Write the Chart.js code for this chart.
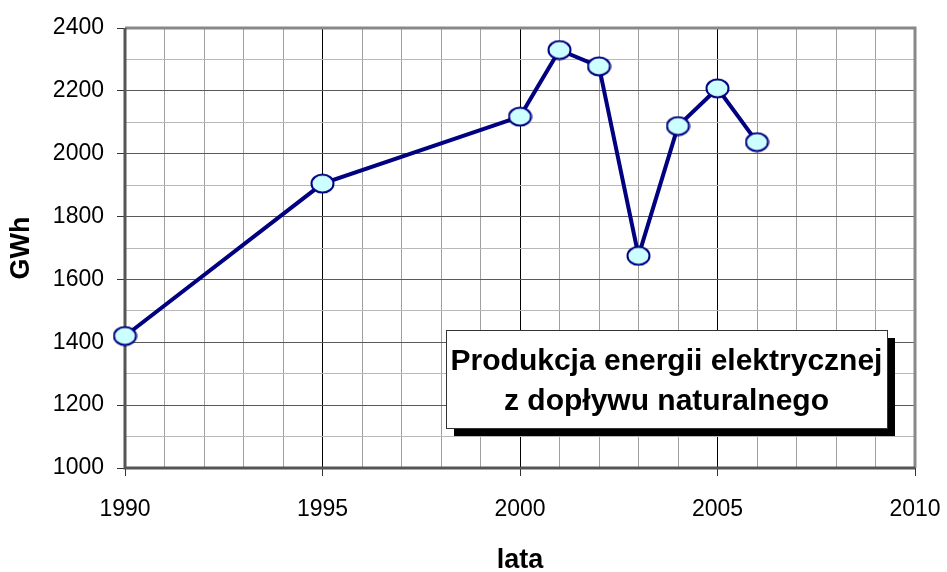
<!DOCTYPE html>
<html>
<head>
<meta charset="utf-8">
<script src="https://cdn.jsdelivr.net/npm/chart.js@4"></script>
<style>
  html, body { margin: 0; padding: 0; background: #fff; }
  #wrap { width: 947px; height: 572px; }
</style>
</head>
<body>
<div id="wrap"><canvas id="chart" width="947" height="572"></canvas></div>
<script>
  const years = [1990, 1995, 2000, 2001, 2002, 2003, 2004, 2005, 2006];
  const gwh = [1420, 1905, 2118, 2330, 2278, 1675, 2088, 2208, 2037];
  const titleLines = ["Produkcja energii elektrycznej", "z dopływu naturalnego"];
  const xTitle = "lata";
  const yTitle = "GWh";

  const FONT = "'Liberation Sans', Arial, sans-serif";

  // ellipse marker, a bit wider than tall like the original
  function makeMarker() {
    const c = document.createElement("canvas");
    c.width = 25; c.height = 21;
    const g = c.getContext("2d");
    g.beginPath();
    g.ellipse(12.5, 10.5, 11, 9, 0, 0, Math.PI * 2);
    g.fillStyle = "#ccffff";
    g.fill();
    g.lineWidth = 2;
    g.strokeStyle = "#000080";
    g.stroke();
    return c;
  }
  const marker = makeMarker();

  const frame = {
    id: "frame",
    beforeDatasetsDraw(chart) {
      const { ctx, chartArea: a } = chart;
      ctx.save();
      ctx.strokeStyle = "#888";
      ctx.lineWidth = 3;
      ctx.beginPath();
      ctx.moveTo(a.left, a.top);
      ctx.lineTo(a.right, a.top);
      ctx.lineTo(a.right, a.bottom);
      ctx.stroke();
      ctx.strokeStyle = "#555";
      ctx.beginPath();
      ctx.moveTo(a.left, a.top);
      ctx.lineTo(a.left, a.bottom);
      ctx.lineTo(a.right, a.bottom);
      ctx.stroke();
      ctx.restore();
    },
    afterDraw(chart) {
      const { ctx, chartArea: a } = chart;
      const x = a.left + 321, y = a.top + 302, w = 441, h = 98;
      ctx.save();
      ctx.fillStyle = "#000";
      ctx.fillRect(x + 8, y + 8, w, h);
      ctx.fillStyle = "#fff";
      ctx.fillRect(x, y, w, h);
      ctx.strokeStyle = "#333";
      ctx.lineWidth = 1;
      ctx.strokeRect(x + 0.5, y + 0.5, w, h);
      ctx.fillStyle = "#000";
      ctx.font = "bold 30px " + FONT;
      ctx.textAlign = "center";
      ctx.textBaseline = "alphabetic";
      ctx.fillText(titleLines[0], x + w / 2, y + 40);
      ctx.fillText(titleLines[1], x + w / 2, y + 80);
      ctx.restore();
    }
  };

  new Chart(document.getElementById("chart"), {
    type: "line",
    data: {
      datasets: [{
        data: years.map((y, i) => ({ x: y, y: gwh[i] })),
        borderColor: "#000080",
        borderWidth: 4,
        pointStyle: marker,
        pointRadius: 10,
        tension: 0,
        clip: false
      }]
    },
    options: {
      responsive: false,
      animation: false,
      layout: { padding: { top: 28, right: 32, left: 0, bottom: 0 } },
      plugins: { legend: { display: false }, tooltip: { enabled: false } },
      scales: {
        x: {
          type: "linear",
          min: 1990,
          max: 2010,
          afterFit(s) { s.height = 104; s.paddingLeft = 0; s.paddingRight = 0; },
          ticks: {
            stepSize: 1,
            autoSkip: false,
            maxRotation: 0,
            padding: 20,
            color: "#000",
            font: { family: FONT, size: 23 },
            callback: v => (v % 5 === 0 ? String(v) : "")
          },
          grid: {
            color: c => (c.tick && c.tick.value % 5 === 0 ? "#000" : "#a0a0a0"),
            tickColor: c => (c.tick && c.tick.value % 5 === 0 ? "#333" : "transparent"),
            tickLength: 8,
            lineWidth: 1
          },
          border: { display: false },
          title: {
            display: true,
            text: xTitle,
            color: "#000",
            font: { family: FONT, size: 27, weight: "bold", lineHeight: 1 },
            padding: { top: 0, bottom: -2 }
          }
        },
        y: {
          min: 1000,
          max: 2400,
          afterFit(s) { s.width = 125; s.paddingTop = 0; s.paddingBottom = 0; },
          ticks: {
            stepSize: 100,
            autoSkip: false,
            padding: 13,
            color: "#000",
            font: { family: FONT, size: 23 },
            callback: v => (v % 200 === 0 ? String(v) : "")
          },
          grid: {
            color: c => (c.tick && c.tick.value % 200 === 0 ? "#5a5a5a" : "#b8b8b8"),
            tickColor: c => (c.tick && c.tick.value % 200 === 0 ? "#333" : "transparent"),
            tickLength: 8,
            lineWidth: 1
          },
          border: { display: false },
          title: {
            display: true,
            text: yTitle,
            color: "#000",
            font: { family: FONT, size: 27, weight: "bold", lineHeight: 1 },
            padding: { top: 8, bottom: 0 }
          }
        }
      }
    },
    plugins: [frame]
  });
</script>
</body>
</html>
